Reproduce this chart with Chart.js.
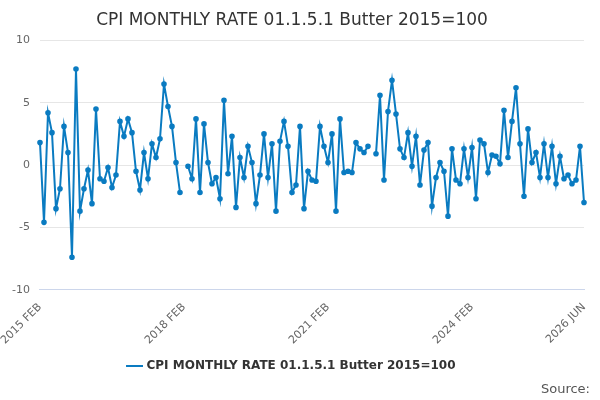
<!DOCTYPE html>
<html>
<head>
<meta charset="utf-8">
<script src="https://cdn.jsdelivr.net/npm/chart.js@4/dist/chart.umd.min.js"></script>
<style>
  body { margin: 0; background: #fff; font-family: "DejaVu Sans", sans-serif; }
  #wrap { position: relative; width: 600px; height: 400px; }
  #source { position: absolute; right: 10px; bottom: 4px; font-size: 13px; color: #555; }
</style>
</head>
<body>
<div id="wrap">
  <canvas id="chart" width="600" height="400"></canvas>
  <div id="source">Source:</div>
</div>
<script>
const seriesName = 'CPI MONTHLY RATE 01.1.5.1 Butter 2015=100';
const startYear = 2015;
const startMonth = 1; // FEB
const monthNames = ['JAN','FEB','MAR','APR','MAY','JUN','JUL','AUG','SEP','OCT','NOV','DEC'];
const shownTicks = ['2015 FEB', '2018 FEB', '2021 FEB', '2024 FEB', '2026 JUN'];
const values = [
    1.8, -4.6, 4.2, 2.6, -3.5, -1.9, 3.1, 1.0, -7.4, 7.7, -3.7, -1.9,
    -0.4, -3.1, 4.5, -1.1, -1.3, -0.2, -1.8, -0.8, 3.5, 2.3, 3.7, 2.6,
    -0.5, -2.0, 1.0, -1.1, 1.7, 0.6, 2.1, 6.5, 4.7, 3.1, 0.2, -2.2,
    null, -0.1, -1.1, 3.7, -2.2, 3.3, 0.2, -1.5, -1.0, -2.7, 5.2, -0.7,
    2.3, -3.4, 0.6, -1.0, 1.5, 0.2, -3.1, -0.8, 2.5, -1.0, 1.7, -3.7,
    1.9, 3.5, 1.5, -2.2, -1.6, 3.1, -3.5, -0.5, -1.2, -1.3, 3.1, 1.5,
    0.2, 2.5, -3.7, 3.7, -0.6, -0.5, -0.6, 1.8, 1.3, 1.0, 1.5, null,
    0.9, 5.6, -1.2, 4.3, 6.8, 4.1, 1.3, 0.6, 2.6, -0.1, 2.3, -1.6,
    1.2, 1.8, -3.3, -1.0, 0.2, -0.5, -4.1, 1.3, -1.2, -1.5, 1.3, -1.0,
    1.4, -2.7, 2.0, 1.7, -0.6, 0.8, 0.7, 0.1, 4.4, 0.6, 3.5, 6.2,
    1.7, -2.5, 2.9, 0.2, 1.0, -1.0, 1.7, -1.0, 1.5, -1.5, 0.7, -1.1,
    -0.8, -1.5, -1.2, 1.5, -3.0
];

const labels = values.map((v, i) => {
    const m = startMonth + i;
    return (startYear + Math.floor(m / 12)) + ' ' + monthNames[m % 12];
});

const color = '#0a7bc1';
new Chart(document.getElementById('chart').getContext('2d'), {
    type: 'line',
    data: {
        labels: labels,
        datasets: [{
            label: seriesName,
            data: values,
            borderColor: color,
            backgroundColor: color,
            borderWidth: 2,
            pointRadius: 1.8,
            pointHoverRadius: 3,
            tension: 0,
            spanGaps: false
        }]
    },
    options: {
        responsive: false,
        animation: false,
        layout: { padding: { left: 0, right: 16, top: 4, bottom: 18 } },
        plugins: {
            title: {
                display: true,
                text: seriesName.replace('RATE', 'RATE'),
                color: '#333',
                font: { family: 'DejaVu Sans', size: 17, weight: 'normal' },
                padding: { top: 6, bottom: 10 }
            },
            legend: {
                position: 'bottom',
                labels: {
                    usePointStyle: true,
                    pointStyle: 'line',
                    boxWidth: 20,
                    color: '#333',
                    font: { family: 'DejaVu Sans', size: 12, weight: 'bold' }
                }
            }
        },
        scales: {
            x: {
                grid: { display: false, drawTicks: true },
                border: { color: '#ccd6eb' },
                ticks: {
                    autoSkip: false,
                    maxRotation: 45,
                    minRotation: 45,
                    color: '#666',
                    font: { family: 'DejaVu Sans', size: 11 },
                    callback: function (val) {
                        const l = this.getLabelForValue(val);
                        return shownTicks.includes(l) ? l : '';
                    }
                }
            },
            y: {
                min: -10,
                max: 10,
                grid: { color: '#e6e6e6', drawTicks: false },
                border: { display: false },
                ticks: {
                    stepSize: 5,
                    padding: 10,
                    color: '#666',
                    font: { family: 'DejaVu Sans', size: 11 }
                }
            }
        }
    }
});
</script>
</body>
</html>
